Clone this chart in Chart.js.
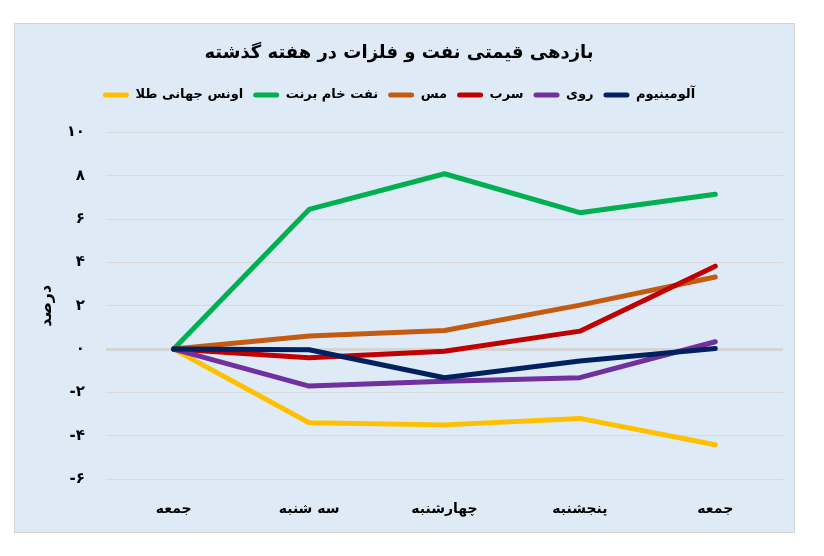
<!DOCTYPE html>
<html>
<head>
<meta charset="utf-8">
<script src="https://cdn.jsdelivr.net/npm/chart.js@4.4.1/dist/chart.umd.min.js"></script>
<style>
  html, body { margin: 0; padding: 0; background: #ffffff; }
  #box {
    position: absolute; left: 14px; top: 23px;
    width: 779px; height: 508px;
    background: #DEEAF6; border: 1px solid #D4D4D4;
  }
  canvas { display: block; }
</style>
</head>
<body>
<div id="box"><canvas id="c" width="779" height="508"></canvas></div>
<script>
const titleText = 'بازدهی قیمتی نفت و فلزات در هفته گذشته';
const yTitle = 'درصد';
const categories = ['جمعه', 'سه شنبه', 'چهارشنبه', 'پنجشنبه', 'جمعه'];
const seriesNames = ['اونس جهانی طلا', 'نفت خام برنت', 'مس', 'سرب', 'روی', 'آلومینیوم'];
const gold      = [0, -3.40, -3.50, -3.20, -4.42];
const brent     = [0,  6.45,  8.10,  6.30,  7.15];
const copper    = [0,  0.60,  0.86,  2.03,  3.33];
const lead      = [0, -0.40, -0.10,  0.83,  3.83];
const zinc      = [0, -1.71, -1.48, -1.32,  0.34];
const aluminium = [0, -0.03, -1.32, -0.55,  0.03];
const yMin = -6, yMax = 10, yStep = 2;

const colors = ['#FFC000', '#00B050', '#C55A11', '#C00000', '#7030A0', '#002060'];
const seriesData = [gold, brent, copper, lead, zinc, aluminium];
const FONT = "'DejaVu Sans', sans-serif";
const faDigits = s => String(s).replace(/\d/g, d => '۰۱۲۳۴۵۶۷۸۹'[d]);

const datasets = seriesData.map((d, i) => ({
  label: seriesNames[i],
  data: d,
  borderColor: colors[i],
  backgroundColor: colors[i],
  borderWidth: 5,
  borderCapStyle: 'round',
  borderJoinStyle: 'round',
  pointRadius: 0,
  pointHoverRadius: 0,
  tension: 0,
  order: seriesData.length - i
}));

const chart = new Chart(document.getElementById('c'), {
  type: 'line',
  data: { labels: categories, datasets },
  options: {
    responsive: false,
    animation: false,
    devicePixelRatio: 1,
    layout: { padding: { left: 0, right: 11, top: 0, bottom: 0 } },
    plugins: {
      tooltip: { enabled: false },
      title: {
        display: true,
        text: titleText,
        color: '#000',
        font: { family: FONT, size: 18, weight: 'bold' },
        padding: { top: 19, bottom: 14 }
      },
      legend: {
        display: true,
        position: 'top',
        labels: {
          color: '#000',
          font: { family: FONT, size: 13, weight: 'bold' },
          boxWidth: 26,
          boxHeight: 5,
          useBorderRadius: true,
          borderRadius: 2.5,
          padding: 10,
          sort: (a, b) => a.datasetIndex - b.datasetIndex,
          generateLabels: (ch) => Chart.defaults.plugins.legend.labels.generateLabels(ch)
            .map(l => Object.assign(l, { lineWidth: 0 }))
        }
      }
    },
    scales: {
      x: {
        offset: true,
        grid: { display: false, drawTicks: false },
        border: { display: false },
        ticks: {
          color: '#000',
          padding: 22,
          font: { family: FONT, size: 14, weight: 'bold' }
        },
        afterFit: s => { s.height = 53; }
      },
      y: {
        min: yMin, max: yMax,
        ticks: {
          stepSize: yStep,
          color: '#000',
          padding: 21,
          font: { family: FONT, size: 15, weight: 'bold' },
          callback: v => faDigits(v)
        },
        grid: {
          drawTicks: false,
          color: ctx => ctx.tick && ctx.tick.value === 0 ? '#D4D4D4' : '#D9D9D9',
          lineWidth: ctx => ctx.tick && ctx.tick.value === 0 ? 3 : 1
        },
        border: { display: false },
        title: {
          display: true,
          text: yTitle,
          color: '#000',
          font: { family: FONT, size: 16, weight: 'bold' },
          padding: { top: 22, bottom: 0 }
        },
        afterFit: s => { s.width = 91; }
      }
    }
  }
});

// extra gap between legend and plot area
const origFit = chart.legend.fit.bind(chart.legend);
chart.legend.fit = function () { origFit(); this.height += 21; };
chart.update();
</script>
</body>
</html>
